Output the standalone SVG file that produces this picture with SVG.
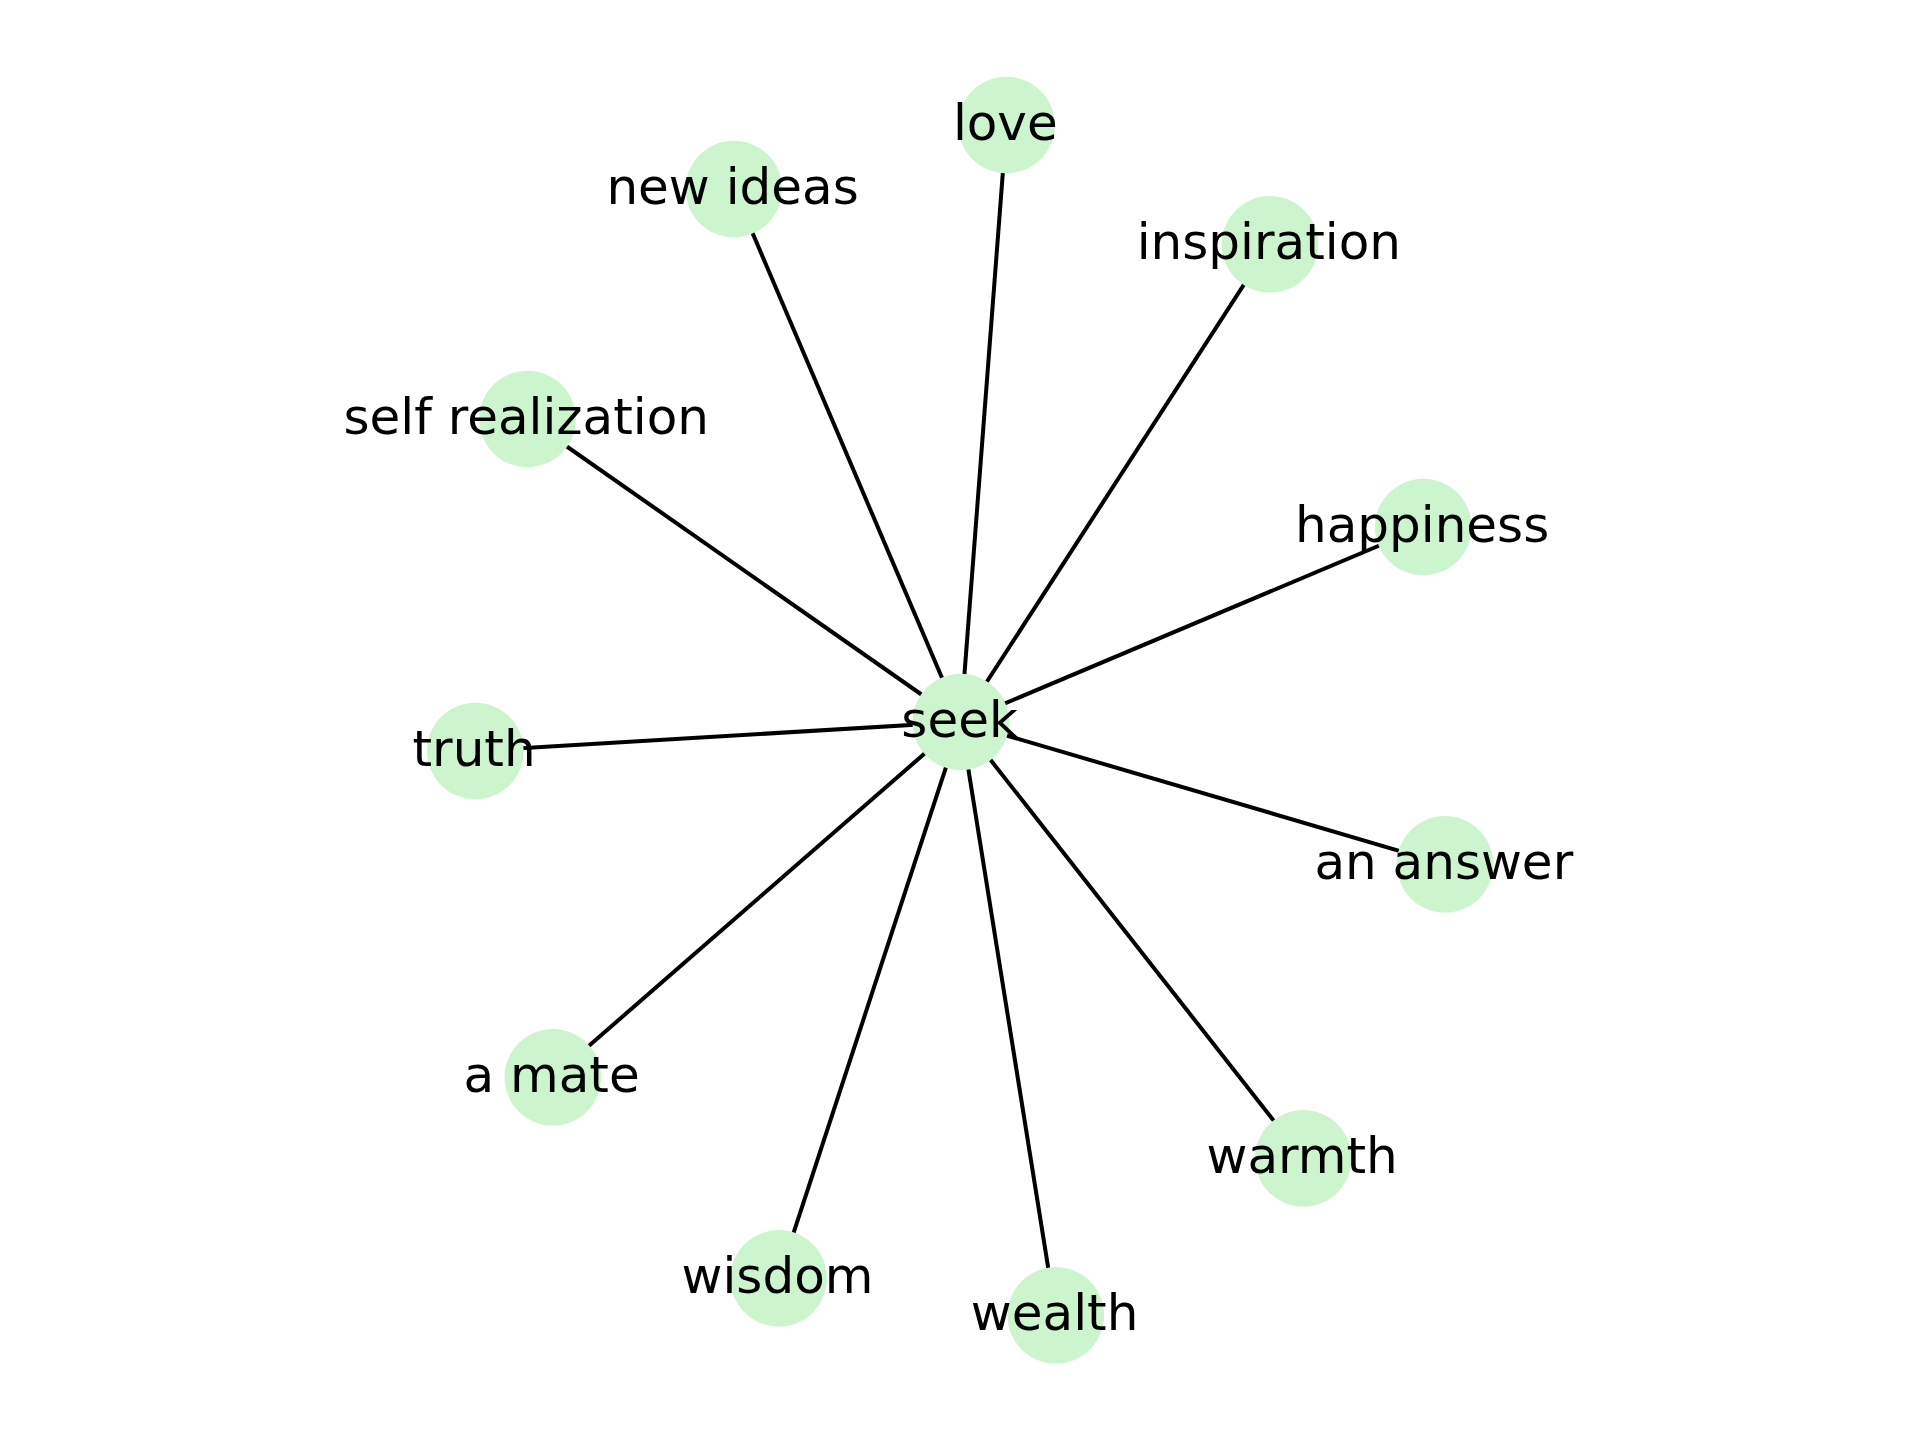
<svg xmlns="http://www.w3.org/2000/svg" width="1920" height="1440" viewBox="0 0 1920 1440">
<style>
.edge{stroke:#000;stroke-width:4;fill:none}
.node circle{fill:#cdf5cd}
.node text{font-family:"DejaVu Sans",sans-serif;font-size:50px;fill:#000;text-anchor:middle}
</style>
<rect width="1920" height="1440" fill="#fff"/>
<g id="edges">
<line class="edge" x1="960.8" y1="722" x2="1006.5" y2="125"/>
<line class="edge" x1="960.8" y1="722" x2="733.8" y2="189"/>
<line class="edge" x1="960.8" y1="722" x2="1270" y2="244.3"/>
<line class="edge" x1="960.8" y1="722" x2="527.5" y2="419"/>
<line class="edge" x1="960.8" y1="722" x2="1423.3" y2="527"/>
<line class="edge" x1="960.8" y1="722" x2="475.3" y2="751"/>
<line class="edge" x1="960.8" y1="722" x2="1445" y2="864.3"/>
<line class="edge" x1="960.8" y1="722" x2="552.8" y2="1077.3"/>
<line class="edge" x1="960.8" y1="722" x2="1303.3" y2="1158.3"/>
<line class="edge" x1="960.8" y1="722" x2="778.7" y2="1278.3"/>
<line class="edge" x1="960.8" y1="722" x2="1055.8" y2="1315.3"/>
</g>
<g id="node-seek" class="node"><circle cx="960.8" cy="722" r="48.3"/><text x="959.6" y="737">seek</text></g>
<g id="node-love" class="node"><circle cx="1006.5" cy="125" r="48.3"/><text x="1005.3" y="140">love</text></g>
<g id="node-new-ideas" class="node"><circle cx="733.8" cy="189" r="48.3"/><text x="732.6" y="204">new ideas</text></g>
<g id="node-inspiration" class="node"><circle cx="1270" cy="244.3" r="48.3"/><text x="1268.8" y="259.3">inspiration</text></g>
<g id="node-self-realization" class="node"><circle cx="527.5" cy="419" r="48.3"/><text x="526.3" y="434">self realization</text></g>
<g id="node-happiness" class="node"><circle cx="1423.3" cy="527" r="48.3"/><text x="1422.1" y="542">happiness</text></g>
<g id="node-truth" class="node"><circle cx="475.3" cy="751" r="48.3"/><text x="474.1" y="766">truth</text></g>
<g id="node-an-answer" class="node"><circle cx="1445" cy="864.3" r="48.3"/><text x="1443.8" y="879.3">an answer</text></g>
<g id="node-a-mate" class="node"><circle cx="552.8" cy="1077.3" r="48.3"/><text x="551.6" y="1092.3">a mate</text></g>
<g id="node-warmth" class="node"><circle cx="1303.3" cy="1158.3" r="48.3"/><text x="1302.1" y="1173.3">warmth</text></g>
<g id="node-wisdom" class="node"><circle cx="778.7" cy="1278.3" r="48.3"/><text x="777.5" y="1293.3">wisdom</text></g>
<g id="node-wealth" class="node"><circle cx="1055.8" cy="1315.3" r="48.3"/><text x="1054.6" y="1330.3">wealth</text></g>
</svg>
